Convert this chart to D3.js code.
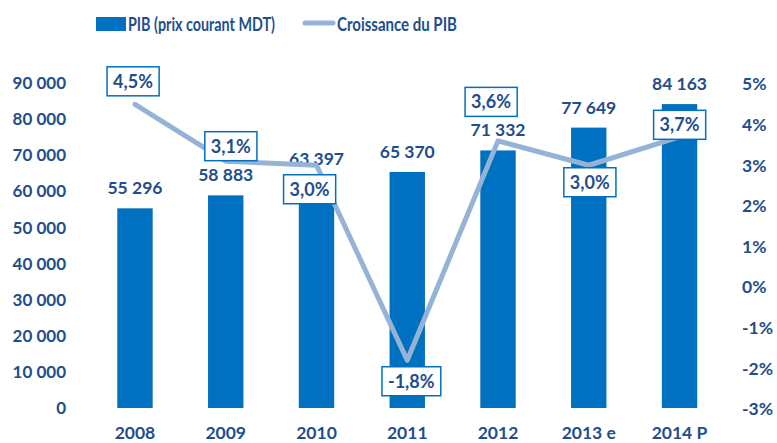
<!DOCTYPE html>
<html>
<head>
<meta charset="utf-8">
<script src="https://cdn.jsdelivr.net/npm/d3@7"></script>
<style>
  body { margin: 0; background: #fff; }
  text { font-family: Lato, "Open Sans", sans-serif; font-weight: bold; }
</style>
</head>
<body>
<div id="container"></div>
<script>
// data
const years = ["2008", "2009", "2010", "2011", "2012", "2013 e", "2014 P"];
const pib = [55296, 58883, 63397, 65370, 71332, 77649, 84163];
const croissance = [4.5, 3.1, 3.0, -1.8, 3.6, 3.0, 3.7];
const leftTicks = [0, 10000, 20000, 30000, 40000, 50000, 60000, 70000, 80000, 90000];
const rightTicks = [-3, -2, -1, 0, 1, 2, 3, 4, 5];

// where Excel put each growth label, relative to its point
const labelOffset = [[-2, -23], [5, -15], [-7, 24], [4, 21], [-7, -39], [1, 17], [0, -12]];

const width = 777, height = 443;
const barColor = "#0070C0", lineColor = "#95B3D7", textColor = "#1F4E8C";

const svg = d3.select("#container").append("svg")
    .attr("width", width).attr("height", height);

const x = d3.scaleBand(years, [89.6, 724.9]).paddingInner(0.61).paddingOuter(0.305);
const y = d3.scaleLinear([0, 90000], [408, 83]);
const y2 = d3.scaleLinear([-3, 5], [409, 84]);

const fmt = d => d3.format(",")(d).replace(/,/g, " ");
const pct = d => d.toFixed(1).replace(".", ",") + "%";

// left axis
svg.append("g")
  .selectAll("text")
  .data(leftTicks)
  .join("text")
    .attr("x", 66)
    .attr("y", d => y(d))
    .attr("dy", "0.36em")
    .attr("text-anchor", "end")
    .attr("fill", textColor)
    .attr("font-size", 17)
    .text(fmt);

// right axis
svg.append("g")
  .selectAll("text")
  .data(rightTicks)
  .join("text")
    .attr("x", 742)
    .attr("y", d => y2(d))
    .attr("dy", "0.36em")
    .attr("fill", textColor)
    .attr("font-size", 17.5)
    .text(d => d + "%");

// x labels
svg.append("g")
  .selectAll("text")
  .data(years)
  .join("text")
    .attr("x", d => x(d) + x.bandwidth() / 2)
    .attr("y", 439)
    .attr("text-anchor", "middle")
    .attr("fill", textColor)
    .attr("font-size", 17.5)
    .text(d => d);

// bars
svg.append("g")
  .selectAll("rect")
  .data(pib)
  .join("rect")
    .attr("x", (d, i) => x(years[i]))
    .attr("y", d => y(d))
    .attr("width", x.bandwidth())
    .attr("height", d => y(0) - y(d))
    .attr("fill", barColor);

svg.append("g")
  .selectAll("text")
  .data(pib)
  .join("text")
    .attr("x", (d, i) => x(years[i]) + x.bandwidth() / 2)
    .attr("y", d => y(d) - 14)
    .attr("text-anchor", "middle")
    .attr("fill", textColor)
    .attr("font-size", 17.5)
    .text(fmt);

// growth line
const line = d3.line()
    .x((d, i) => x(years[i]) + x.bandwidth() / 2)
    .y(d => y2(d));

svg.append("path")
    .datum(croissance)
    .attr("d", line)
    .attr("fill", "none")
    .attr("stroke", lineColor)
    .attr("stroke-width", 5)
    .attr("stroke-linejoin", "round")
    .attr("stroke-linecap", "round");

// growth labels in boxes
const lab = svg.append("g")
  .selectAll("g")
  .data(croissance)
  .join("g")
    .attr("transform", (d, i) => `translate(${x(years[i]) + x.bandwidth() / 2 + labelOffset[i][0]},${y2(d) + labelOffset[i][1]})`);

lab.append("text")
    .attr("text-anchor", "middle")
    .attr("dy", "0.36em")
    .attr("fill", textColor)
    .attr("font-size", 18)
    .text(pct);

lab.insert("rect", "text")
    .each(function() {
      const b = this.parentNode.querySelector("text").getBBox();
      d3.select(this)
        .attr("x", b.x - 6).attr("y", -14.5)
        .attr("width", b.width + 12).attr("height", 29);
    })
    .attr("fill", "#fff")
    .attr("stroke", barColor)
    .attr("stroke-width", 1.5);

// legend
const legend = svg.append("g");
legend.append("rect")
    .attr("x", 96).attr("y", 17).attr("width", 30).attr("height", 14)
    .attr("fill", barColor);
legend.append("text")
    .attr("x", 128).attr("y", 30.5)
    .attr("fill", textColor)
    .attr("font-size", 18)
    .attr("textLength", 147).attr("lengthAdjust", "spacingAndGlyphs")
    .text("PIB (prix courant MDT)");
legend.append("line")
    .attr("x1", 305).attr("x2", 333).attr("y1", 23).attr("y2", 23)
    .attr("stroke", lineColor).attr("stroke-width", 5)
    .attr("stroke-linecap", "round");
legend.append("text")
    .attr("x", 337).attr("y", 30.5)
    .attr("fill", textColor)
    .attr("font-size", 18)
    .attr("textLength", 120).attr("lengthAdjust", "spacingAndGlyphs")
    .text("Croissance du PIB");
</script>
</body>
</html>
